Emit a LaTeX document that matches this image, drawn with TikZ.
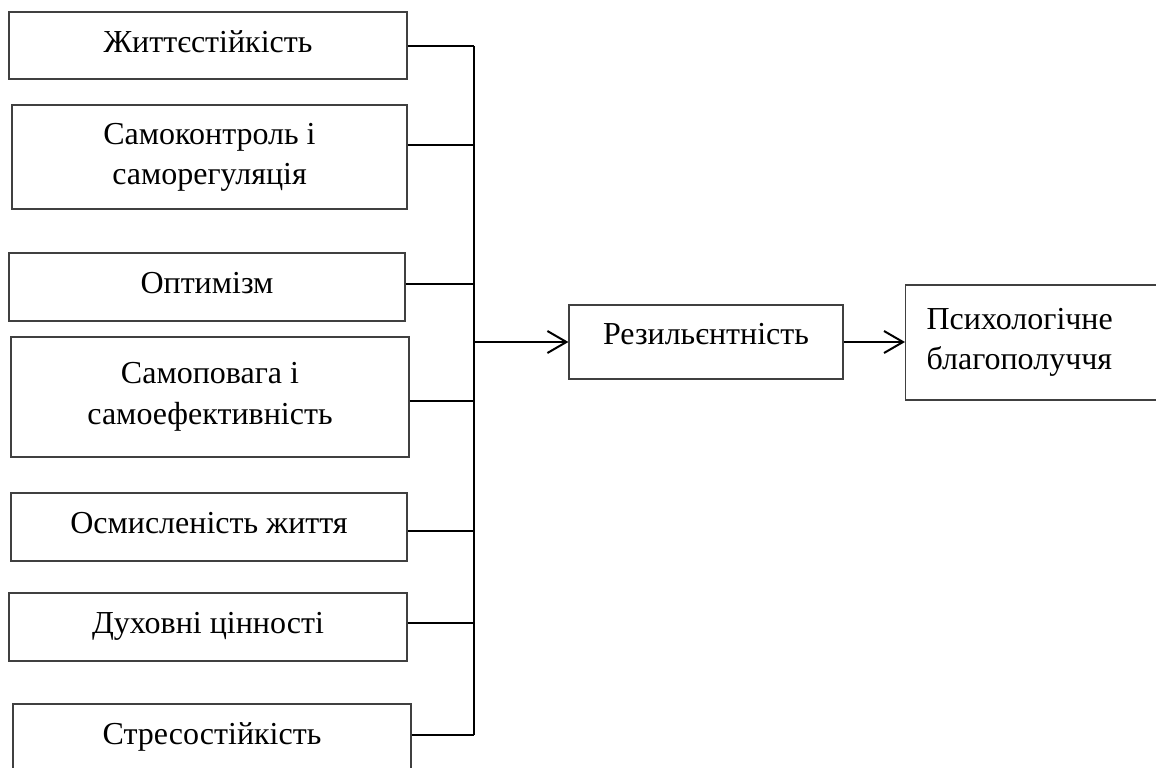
\documentclass[tikz,border=0pt]{standalone}
\usepackage{fontspec}
\setmainfont{Liberation Serif}
\usetikzlibrary{arrows.meta}
\begin{document}
\begin{tikzpicture}[x=0.5pt,y=-0.5pt,
        box/.style={draw=black!75, line width=0.6pt, inner sep=0pt, align=center,
            minimum width=199pt, minimum height=34pt, font=\fontsize{16}{20}\selectfont},
        oneline/.style={text depth=4pt},
        link/.style={line width=1pt},
        arr/.style={line width=1pt, -{Straight Barb[length=9.5pt,width=11pt]}}]
        \useasboundingbox (0,0) rectangle (1156,767);
        \clip (0,0) rectangle (1156,767);

        \node[box, oneline, minimum height=33.5pt] (zhyt) at (208,45.5) {Життєстійкість};
        \node[box, minimum width=197.5pt, minimum height=52pt] (samokontr) at (209.5,157) {Самоконтроль і\\саморегуляція};
        \node[box, oneline, minimum width=198pt] (optym) at (207,287) {Оптимізм};
        \node[box, minimum height=60pt, font=\fontsize{16}{20.5}\selectfont] (samopov) at (210,397) {Самоповага і\\самоефективність};
        \node[box, oneline, minimum width=198pt] (osmysl) at (209,527) {Осмисленість життя};
        \node[box, oneline] (dukh) at (208,627) {Духовні цінності};
        \node[box, oneline] (stres) at (212,738) {Стресостійкість};

        \node[box, minimum width=137pt, minimum height=37pt, text depth=8pt] (rez) at (706,342) {Резильєнтність};
        \node[box, align=left, text width=119pt, inner xsep=10.5pt, minimum width=0pt, minimum height=57.5pt,
            anchor=west] (blago) at (905,342.5) {Психологічне\\благополуччя\\[4pt]};

        \coordinate (top) at (474,46);
        \coordinate (bot) at (474,735);
        \coordinate (mid) at (474,342);

        \draw[link] (top) -- (bot);
        \foreach \n/\s in {zhyt/0,samokontr/6,optym/1.5,samopov/-2,osmysl/-2,dukh/2,stres/1.5}
            \draw[link] ([yshift=\s pt]\n.east) -- ([yshift=\s pt]\n.east -| top);

        \draw[arr] (mid) -- (rez.west);
        \draw[arr] (rez.east) -- (rez.east -| blago.west);
    \end{tikzpicture}
\end{document}
